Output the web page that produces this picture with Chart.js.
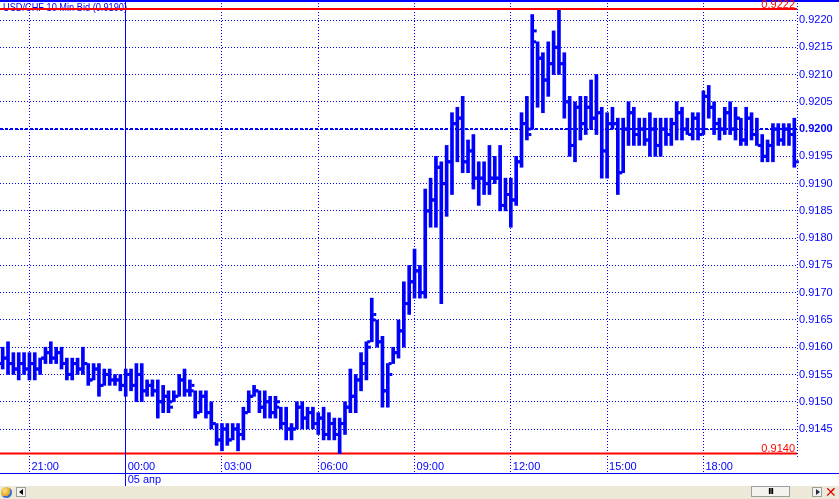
<!DOCTYPE html>
<html lang="ru">
<head>
  <meta charset="UTF-8">
  <title>USD/CHF 10 Min Bid</title>
  <script src="https://cdn.jsdelivr.net/npm/chart.js"></script>
  <style>
    body {
      margin: 0;
      background: #ffffff;
      width: 839px;
      height: 499px;
      overflow: hidden;
      font-family: "Liberation Sans", Arial, sans-serif;
    }

    #chartBox {
      width: 839px;
      height: 486px;
    }

    /* scroll bar under the chart */
    .scroll {
      position: relative;
      width: 839px;
      height: 13px;
      background: #ece9d8;
    }
    .scroll .globe {
      position: absolute; left: 1px; top: 1px; width: 11px; height: 11px;
      border-radius: 50%;
      background: radial-gradient(circle at 35% 35%, #ffe680, #e0a020 55%, #3a6cc8 56%);
    }
    .scroll .btn {
      position: absolute; top: 1px; width: 10px; height: 10px;
      background: #f4f3ee; border: 1px solid #9d9d9d; box-sizing: border-box;
    }
    .scroll .btn::after {
      content: ""; position: absolute; top: 1px; width: 0; height: 0;
      border-top: 3.5px solid transparent; border-bottom: 3.5px solid transparent;
    }
    .scroll .btn.left { left: 16px; }
    .scroll .btn.left::after { left: 2px; border-right: 4px solid #000; }
    .scroll .btn.right { left: 812px; }
    .scroll .btn.right::after { left: 3px; border-left: 4px solid #203040; }
    .scroll .thumb {
      position: absolute; left: 751px; top: 0; width: 39px; height: 11px;
      background: #f4f3ee; border: 1px solid #9d9d9d; box-sizing: border-box;
      font: bold 9px "Liberation Sans", Arial, sans-serif; line-height: 9px;
      text-align: center; color: #000; letter-spacing: -1px;
    }
    .scroll .close {
      position: absolute; left: 825px; top: -1px; width: 14px; height: 14px;
      color: #e00000; font: bold 14px "DejaVu Sans", sans-serif; line-height: 14px;
    }
  </style>
</head>
<body>

  <div id="chartBox">
    <canvas id="chartOhlc" width="839" height="486"></canvas>
  </div>
  <div class="scroll">
    <div class="globe"></div>
    <div class="btn left"></div>
    <div class="thumb">III</div>
    <div class="btn right"></div>
    <div class="close">✕</div>
  </div>

<script>
  const BLUE = '#0000ff';
  const RED = '#ff0000';

  const title = 'USD/CHF 10 Min Bid (0.9190)';
  const xTickLabels = ['21:00', '00:00', '03:00', '06:00', '09:00', '12:00', '15:00', '18:00'];
  const dayStart = '00:00';
  const dateLabel = '05 апр';
  const yTicks = [0.9145, 0.9150, 0.9155, 0.9160, 0.9165, 0.9170, 0.9175, 0.9180, 0.9185,
                  0.9190, 0.9195, 0.9200, 0.9205, 0.9210, 0.9215, 0.9220];
  const markLevel = 0.9200;

  // 10 min bars, 20:10 (04 апр) .. 20:50 (05 апр)
  const opens = [
    .9157, .9158, .9157, .9156, .9157, .9156, .9157, .9156, .9158, .9159,
    .9158, .9159, .9157, .9155, .9157, .9156, .9157, .9154, .9156, .9153,
    .9155, .9154, .9154, .9153, .9155, .9153, .9155, .9152, .9153, .9152,
    .9150, .9151, .9150, .9151, .9154, .9152, .9152, .9148, .9151, .9148,
    .9146, .9143, .9145, .9143, .9145, .9144, .9148, .9151, .9152, .9149,
    .9150, .9148, .9149, .9146, .9145, .9145, .9149, .9147, .9148, .9146,
    .9147, .9144, .9146, .9144, .9146, .9149, .9151, .9154, .9157, .9161,
    .9165, .9161, .9152, .9157, .9159, .9163, .9168, .9172, .9174, .9170,
    .9185, .9187, .9193, .9190, .9194, .9201, .9202, .9194, .9196, .9191,
    .9191, .9190, .9191, .9191, .9186, .9188, .9187, .9194, .9201, .9200,
    .9216, .9213, .9209, .9212, .9215, .9212, .9205, .9197, .9204, .9201,
    .9204, .9202, .9203, .9196, .9201, .9201, .9192, .9200, .9203, .9199,
    .9200, .9198, .9200, .9197, .9200, .9199, .9201, .9203, .9200, .9199,
    .9202, .9199, .9206, .9204, .9201, .9200, .9203, .9200, .9202, .9198,
    .9202, .9199, .9197, .9195, .9197, .9200, .9198, .9200, .9199
  ];
  const highs = [
    .9160, .9161, .9159, .9159, .9159, .9159, .9159, .9158, .9160, .9161,
    .9160, .9160, .9158, .9158, .9158, .9160, .9157, .9157, .9157, .9156,
    .9156, .9155, .9155, .9156, .9156, .9157, .9157, .9154, .9154, .9154,
    .9153, .9152, .9152, .9155, .9156, .9154, .9152, .9152, .9152, .9150,
    .9146, .9146, .9146, .9146, .9146, .9149, .9152, .9153, .9152, .9152,
    .9151, .9151, .9149, .9149, .9146, .9150, .9150, .9149, .9149, .9148,
    .9149, .9148, .9147, .9147, .9150, .9156, .9155, .9159, .9161, .9169,
    .9165, .9162, .9157, .9160, .9165, .9172, .9175, .9178, .9175, .9189,
    .9191, .9195, .9194, .9197, .9203, .9204, .9206, .9198, .9199, .9194,
    .9194, .9197, .9195, .9197, .9191, .9191, .9195, .9203, .9206, .9221,
    .9216, .9214, .9216, .9218, .9222, .9214, .9206, .9205, .9206, .9206,
    .9209, .9210, .9204, .9203, .9204, .9202, .9202, .9205, .9204, .9202,
    .9202, .9203, .9202, .9202, .9202, .9202, .9205, .9204, .9202, .9203,
    .9203, .9207, .9208, .9205, .9202, .9204, .9205, .9204, .9202, .9204,
    .9203, .9202, .9199, .9198, .9201, .9201, .9201, .9201, .9202
  ];
  const lows = [
    .9156, .9155, .9155, .9154, .9155, .9154, .9154, .9155, .9157, .9157,
    .9157, .9156, .9154, .9154, .9155, .9155, .9153, .9154, .9151, .9153,
    .9153, .9153, .9152, .9151, .9152, .9150, .9150, .9151, .9151, .9147,
    .9148, .9148, .9150, .9151, .9151, .9151, .9147, .9148, .9147, .9145,
    .9142, .9141, .9142, .9143, .9141, .9143, .9148, .9151, .9148, .9147,
    .9147, .9147, .9145, .9143, .9143, .9145, .9145, .9145, .9145, .9144,
    .9143, .9143, .9143, .91405, .9144, .9148, .9148, .9152, .9154, .9161,
    .9160, .9149, .9149, .9157, .9158, .9160, .9166, .9169, .9169, .9169,
    .9182, .9182, .9168, .9184, .9188, .9194, .9192, .9192, .9189, .9186,
    .9188, .9188, .9190, .9185, .9185, .9182, .9186, .9193, .9198, .9200,
    .9204, .9203, .9206, .9210, .9210, .9202, .9195, .9194, .9198, .9199,
    .9200, .9199, .9191, .9191, .9200, .9188, .9192, .9197, .9197, .9197,
    .9197, .9195, .9195, .9195, .9197, .9197, .9198, .9198, .9199, .9198,
    .9198, .9199, .9202, .9199, .9198, .9199, .9199, .9198, .9197, .9197,
    .9198, .9197, .9194, .9194, .9194, .9197, .9197, .9197, .9193
  ];
  const closes = [
    .9158, .9157, .9156, .9157, .9156, .9157, .9156, .9158, .9159, .9158,
    .9159, .9157, .9155, .9157, .9156, .9157, .9154, .9156, .9153, .9155,
    .9154, .9154, .9153, .9155, .9153, .9155, .9152, .9153, .9152, .9150,
    .9151, .9149, .9151, .9154, .9152, .9153, .9148, .9151, .9148, .9146,
    .9143, .9145, .9143, .9145, .9144, .9148, .9151, .9152, .9149, .9150,
    .9148, .9150, .9146, .9145, .9145, .9149, .9147, .9148, .9146, .9147,
    .9144, .9146, .9144, .9146, .9149, .9151, .9154, .9157, .9160, .9166,
    .9161, .9152, .9155, .9159, .9163, .9168, .9172, .9174, .9170, .9185,
    .9187, .9193, .9190, .9194, .9201, .9202, .9194, .9196, .9191, .9191,
    .9190, .9191, .9191, .9186, .9188, .9187, .9194, .9201, .9199, .9218,
    .9213, .9209, .9212, .9215, .9212, .9205, .9197, .9204, .9201, .9204,
    .9202, .9203, .9196, .9201, .9201, .9192, .9200, .9203, .9199, .9200,
    .9198, .9200, .9197, .9200, .9199, .9201, .9203, .9200, .9199, .9202,
    .9199, .9206, .9204, .9201, .9200, .9203, .9200, .9202, .9198, .9202,
    .9199, .9197, .9195, .9197, .9200, .9198, .9200, .9199, .9194
  ];

  // category labels hh:mm from 20:10
  const times = [];
  for (let i = 0; i < opens.length; i++) {
    const m = (20 * 60 + 10 + i * 10) % 1440;
    times.push(String(Math.floor(m / 60)).padStart(2, '0') + ':' + String(m % 60).padStart(2, '0'));
  }

  const FONT = '"Liberation Sans", Arial, sans-serif';
  Chart.defaults.font.family = FONT;
  Chart.defaults.font.size = 11;

  const crisp = v => Math.round(v - 0.5) + 0.5;

  // lines under the bars: 0.9200 level, max / min
  const levels = {
    id: 'levels',
    beforeDatasetsDraw(chart) {
      const { ctx, chartArea: area, scales: { y } } = chart;
      ctx.save();
      ctx.strokeStyle = BLUE;
      ctx.lineWidth = 2;
      ctx.setLineDash([3, 2]);
      const ym = Math.round(y.getPixelForValue(markLevel));
      ctx.beginPath();
      ctx.moveTo(area.left, ym);
      ctx.lineTo(area.right, ym);
      ctx.stroke();

      ctx.setLineDash([]);
      ctx.strokeStyle = RED;
      [Math.max(...highs), Math.min(...lows)].forEach(v => {
        const yy = y.getPixelForValue(v);
        ctx.beginPath();
        ctx.moveTo(area.left, yy);
        ctx.lineTo(area.right, yy);
        ctx.stroke();
      });
      ctx.restore();
    }
  };

  // open / close ticks of each bar
  const ohlcTicks = {
    id: 'ohlcTicks',
    afterDatasetsDraw(chart) {
      const { ctx, scales: { x, y } } = chart;
      ctx.save();
      ctx.fillStyle = BLUE;
      opens.forEach((o, i) => {
        const px = x.getPixelForValue(i);
        ctx.fillRect(px - 4.5, y.getPixelForValue(o) - 1.5, 3, 3);
        ctx.fillRect(px + 1.5, y.getPixelForValue(closes[i]) - 1.5, 3, 3);
      });
      ctx.restore();
    }
  };

  // frame, title, max/min labels, date row
  const frame = {
    id: 'frame',
    afterDraw(chart) {
      const { ctx, chartArea: area, scales: { x, y } } = chart;
      const W = chart.width;
      const rowLine = x.top + 14;
      ctx.save();

      // dotted continuation of time grid lines into the label row
      ctx.strokeStyle = BLUE;
      ctx.lineWidth = 1;
      ctx.setLineDash([1, 2]);
      x.ticks.forEach(t => {
        const px = crisp(x.getPixelForValue(t.value));
        ctx.beginPath();
        ctx.moveTo(px, area.bottom);
        ctx.lineTo(px, rowLine);
        ctx.stroke();
      });
      // dotted right border of the plot
      ctx.beginPath();
      ctx.moveTo(crisp(area.right), area.top);
      ctx.lineTo(crisp(area.right), area.bottom);
      ctx.stroke();

      // solid day separator
      ctx.setLineDash([]);
      const d = crisp(x.getPixelForValue(times.indexOf(dayStart)));
      ctx.beginPath();
      ctx.moveTo(d, 0);
      ctx.lineTo(d, chart.height);
      ctx.stroke();

      // line between time row and date row
      ctx.beginPath();
      ctx.moveTo(0, rowLine + 0.5);
      ctx.lineTo(W, rowLine + 0.5);
      ctx.stroke();

      // top border
      ctx.fillStyle = BLUE;
      ctx.fillRect(0, 0, W, 2);

      // title
      ctx.font = '11px ' + FONT;
      ctx.textBaseline = 'middle';
      ctx.textAlign = 'left';
      ctx.fillText(title, 3, 7.5, 124);

      // red line back over the title
      const hi = Math.max(...highs);
      const lo = Math.min(...lows);
      ctx.strokeStyle = RED;
      ctx.lineWidth = 2;
      ctx.beginPath();
      ctx.moveTo(area.left, y.getPixelForValue(hi));
      ctx.lineTo(area.right, y.getPixelForValue(hi));
      ctx.stroke();

      // max / min labels
      ctx.fillStyle = RED;
      ctx.textAlign = 'right';
      ctx.textBaseline = 'bottom';
      [hi, lo].forEach(v => {
        const label = (Math.floor(v * 10000 + 1e-6) / 10000).toFixed(4);
        ctx.fillText(label, area.right - 2, y.getPixelForValue(v) + 1);
      });
      ctx.restore();
    }
  };

  new Chart(document.getElementById('chartOhlc'), {
    type: 'bar',
    data: {
      labels: times,
      datasets: [{
        label: 'USD/CHF',
        data: lows.map((l, i) => [l, highs[i]]),
        backgroundColor: BLUE,
        borderWidth: 0,
        barThickness: 3
      }]
    },
    options: {
      responsive: false,
      animation: false,
      devicePixelRatio: 1,
      layout: { padding: 0 },
      plugins: {
        legend: { display: false },
        tooltip: { enabled: false }
      },
      scales: {
        x: {
          afterBuildTicks: scale => {
            scale.ticks = scale.ticks.filter(t => xTickLabels.includes(times[t.value]));
          },
          afterFit: scale => {
            scale.height = 27;
            scale.paddingLeft = 0;
            scale.paddingRight = 0;
          },
          grid: { color: BLUE, offset: false, drawTicks: false, lineWidth: 1 },
          border: { display: false, dash: [1, 2] },
          ticks: {
            autoSkip: false,
            maxRotation: 0,
            align: 'start',
            labelOffset: 2,
            padding: 1,
            color: BLUE,
            callback: value => times[value] === dayStart ? [times[value], dateLabel] : times[value]
          }
        },
        y: {
          position: 'right',
          min: 0.91395,
          max: 0.922367,
          afterBuildTicks: scale => {
            scale.ticks = yTicks.map(v => ({ value: v }));
          },
          afterFit: scale => {
            scale.width = 42;
            scale.paddingTop = 0;
            scale.paddingBottom = 0;
          },
          grid: { color: BLUE, drawTicks: false, lineWidth: 1 },
          border: { display: false, dash: [1, 2] },
          ticks: {
            padding: 2,
            color: BLUE,
            font: ctx => ({ size: 11, weight: ctx.tick && ctx.tick.value === markLevel ? 'bold' : 'normal' }),
            callback: value => Number(value).toFixed(4)
          }
        }
      }
    },
    plugins: [levels, ohlcTicks, frame]
  });
</script>

</body>
</html>
